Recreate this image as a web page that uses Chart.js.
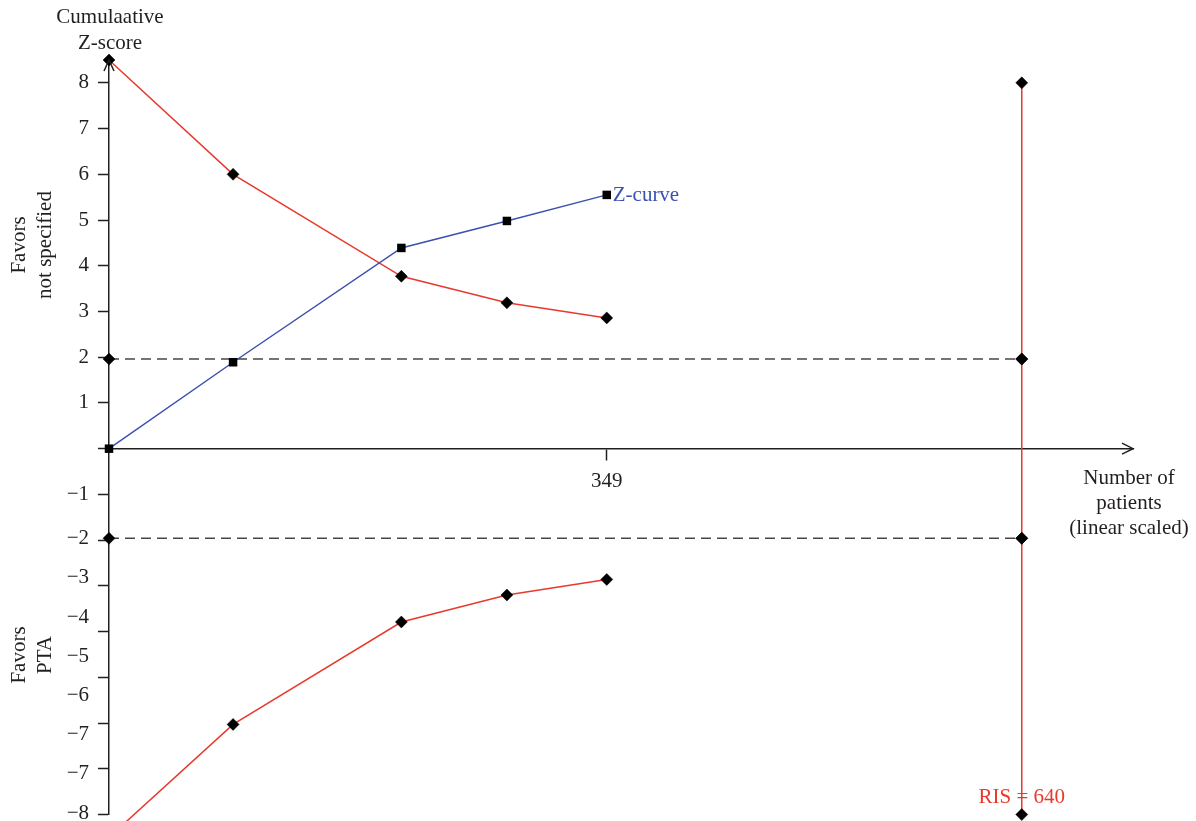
<!DOCTYPE html>
<html>
<head>
<meta charset="utf-8">
<script src="https://cdn.jsdelivr.net/npm/chart.js@4/dist/chart.umd.min.js"></script>
<style>
  html, body { margin: 0; padding: 0; background: #ffffff; }
  #wrap { width: 1196px; height: 821px; position: relative; }
</style>
</head>
<body>
<div id="wrap"><canvas id="tsa" width="1196" height="821"></canvas></div>
<script>
// Cumulative number of patients at each interim look
const patients = [0, 87, 205, 279, 349];
// Cumulative Z-score
const zCurve = [0, 1.89, 4.39, 4.98, 5.55];
// O'Brien-Fleming monitoring boundaries
const upperBoundary = [8.5, 6.0, 3.77, 3.19, 2.86];
const lowerBoundary = [-8.5, -6.03, -3.79, -3.20, -2.86];
// Conventional significance level (|Z| = 1.96)
const conventionalZ = 1.96;
// Required information size
const requiredSize = 640;
const risMarks = [8, 1.96, -1.96, -8];

const yTickValues = [8, 7, 6, 5, 4, 3, 2, 1, 0, -1, -2, -3, -4, -5, -6, -7, -8];
const yTickLabels = ['8', '7', '6', '5', '4', '3', '2', '1', '', '\u22121', '', '', '', '', '', '', ''];
const lowerTickLabels = ['\u22122', '\u22123', '\u22124', '\u22125', '\u22126', '\u22127', '\u22127', '\u22128'];
const xTickValues = [349];

const INK = '#231f20';
const RED = '#e8392e';
const BLUE = '#3b51b0';
const DASH = '#474747';
const FONT = "'Liberation Serif', 'Times New Roman', serif";

Chart.defaults.font.family = FONT;
Chart.defaults.font.size = 21;
Chart.defaults.color = INK;

const pts = (xs, ys) => xs.map((x, i) => ({ x: x, y: ys[i] }));

const diamond = {
  pointStyle: 'rectRot', pointRadius: 6, pointBackgroundColor: '#000', pointBorderColor: '#000',
  pointBorderWidth: 0.5
};

const decorations = {
  id: 'decorations',
  afterDraw(chart) {
    const { ctx, chartArea, scales } = chart;
    const xs = scales.x, ys = scales.y;
    const y0 = ys.getPixelForValue(0);
    ctx.save();

    // axis arrowheads
    ctx.strokeStyle = INK;
    ctx.lineWidth = 1.5;
    ctx.beginPath();
    ctx.moveTo(chartArea.left - 5, chartArea.top + 11);
    ctx.lineTo(chartArea.left, chartArea.top);
    ctx.lineTo(chartArea.left + 5, chartArea.top + 11);
    ctx.stroke();
    ctx.beginPath();
    ctx.moveTo(chartArea.right - 11, y0 - 5.5);
    ctx.lineTo(chartArea.right, y0);
    ctx.lineTo(chartArea.right - 11, y0 + 5.5);
    ctx.stroke();

    ctx.font = '21px ' + FONT;
    ctx.fillStyle = INK;
    ctx.textBaseline = 'middle';

    // lower tick labels, spread over the negative half of the axis
    ctx.textAlign = 'right';
    const top = ys.getPixelForValue(-2), bottom = ys.getPixelForValue(-8);
    const n = lowerTickLabels.length;
    lowerTickLabels.forEach((t, i) => {
      const y = top + (bottom - top) * i / (n - 1) - 1.5;
      ctx.fillText(t, chartArea.left - 20, y);
    });

    // axis titles
    ctx.textAlign = 'center';
    ctx.fillText('Cumulaative', chartArea.left + 1, 17);
    ctx.fillText('Z-score', chartArea.left + 1, 43);
    ctx.fillText('Number of', 1129, 478);
    ctx.fillText('patients', 1129, 503);
    ctx.fillText('(linear scaled)', 1129, 528);

    const vertical = (lines, cx, cy) => {
      ctx.save();
      ctx.translate(cx, cy);
      ctx.rotate(-Math.PI / 2);
      lines.forEach((t, i) => ctx.fillText(t, 0, (i - (lines.length - 1) / 2) * 26));
      ctx.restore();
    };
    vertical(['Favors', 'not specified'], 32, 245);
    vertical(['Favors', 'PTA'], 32, 655);

    // series labels
    ctx.fillStyle = BLUE;
    ctx.textAlign = 'left';
    const last = patients.length - 1;
    ctx.fillText('Z-curve', xs.getPixelForValue(patients[last]) + 6, ys.getPixelForValue(zCurve[last]) + 1);

    ctx.fillStyle = RED;
    ctx.textAlign = 'center';
    ctx.fillText('RIS = ' + requiredSize, xs.getPixelForValue(requiredSize), 797);

    ctx.restore();
  }
};

new Chart(document.getElementById('tsa'), {
  type: 'line',
  data: {
    datasets: [
      {
        label: 'Z-curve', data: pts(patients, zCurve), borderColor: BLUE, borderWidth: 1.5,
        pointStyle: 'rect', pointRadius: 6, pointBackgroundColor: '#000', pointBorderColor: '#000',
        pointBorderWidth: 0, clip: false
      },
      {
        label: 'Upper boundary', data: pts(patients, upperBoundary), borderColor: RED, borderWidth: 1.5,
        ...diamond, clip: false
      },
      {
        label: 'Lower boundary', data: pts(patients, lowerBoundary), borderColor: RED, borderWidth: 1.5,
        ...diamond, clip: false
      },
      {
        label: 'Z = 1.96', data: pts([0, requiredSize], [conventionalZ, conventionalZ]),
        borderColor: DASH, borderWidth: 1.5, borderDash: [10, 6], ...diamond, clip: false
      },
      {
        label: 'Z = -1.96', data: pts([0, requiredSize], [-conventionalZ, -conventionalZ]),
        borderColor: DASH, borderWidth: 1.5, borderDash: [10, 6], ...diamond, clip: false
      },
      {
        label: 'RIS', data: risMarks.map(v => ({ x: requiredSize, y: v })),
        borderColor: RED, borderWidth: 1.5, ...diamond, clip: false
      }
    ]
  },
  options: {
    responsive: false,
    devicePixelRatio: 1,
    animation: false,
    events: [],
    layout: { padding: { left: 0, top: 60, right: 63, bottom: 6 } },
    plugins: { legend: { display: false }, tooltip: { enabled: false }, title: { display: false } },
    elements: { line: { tension: 0, fill: false } },
    scales: {
      x: {
        type: 'linear', min: 0, max: 718, position: { y: 0 },
        afterBuildTicks: s => { s.ticks = xTickValues.map(v => ({ value: v })); },
        afterFit: s => { s.paddingLeft = 0; s.paddingRight = 0; },
        grid: { drawOnChartArea: false, drawTicks: true, tickLength: 11, tickColor: INK, tickWidth: 1.5 },
        border: { display: true, color: INK, width: 1.5 },
        ticks: { color: INK, padding: 9, autoSkip: false, maxRotation: 0, callback: v => String(v) }
      },
      y: {
        type: 'linear', min: -8, max: 8.5, position: 'left',
        afterFit: s => { s.width = 109; s.paddingTop = 0; s.paddingBottom = 0; },
        afterBuildTicks: s => { s.ticks = yTickValues.map(v => ({ value: v })); },
        grid: { drawOnChartArea: false, drawTicks: true, tickLength: 11, tickColor: INK, tickWidth: 1.5 },
        border: { display: true, color: INK, width: 1.5 },
        ticks: {
          color: INK, padding: 9, autoSkip: false,
          callback: v => { const i = yTickValues.indexOf(v); return i < 0 ? '' : yTickLabels[i]; }
        }
      }
    }
  },
  plugins: [decorations]
});
</script>
</body>
</html>
